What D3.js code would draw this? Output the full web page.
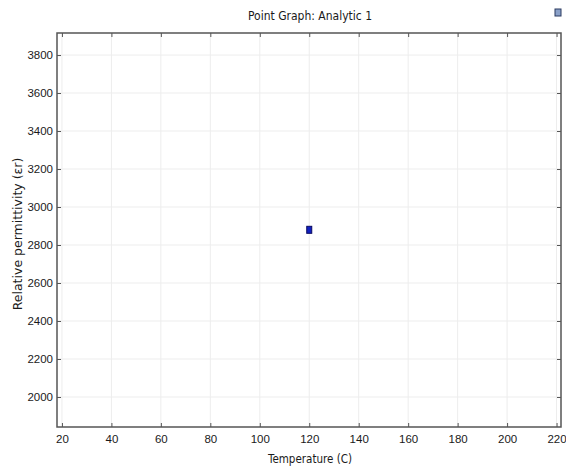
<!DOCTYPE html>
<html>
<head>
<meta charset="utf-8">
<script src="https://cdn.jsdelivr.net/npm/d3@7"></script>
<style>
  html, body { margin: 0; padding: 0; background: #fff; }
  svg { display: block; font-family: "DejaVu Sans Condensed", "DejaVu Sans", sans-serif; }
</style>
</head>
<body>
<div id="chart"></div>
<script>
// chart data
const temperature = [120];
const permittivity = [2880];
const xTicks = [20, 40, 60, 80, 100, 120, 140, 160, 180, 200, 220];
const yTicks = [2000, 2200, 2400, 2600, 2800, 3000, 3200, 3400, 3600, 3800];

const width = 566, height = 467;
const margin = { top: 33, right: 5, bottom: 40, left: 57 };
const innerW = width - margin.left - margin.right;
const innerH = height - margin.top - margin.bottom;

const svg = d3.select('#chart')
  .append('svg')
  .attr('width', width)
  .attr('height', height);

const g = svg.append('g')
  .attr('transform', `translate(${margin.left},${margin.top})`);

const x = d3.scaleLinear().domain([18, 221.8]).range([0, innerW]);
const y = d3.scaleLinear().domain([1842, 3916]).range([innerH, 0]);

// grid
g.append('g')
  .selectAll('line')
  .data(xTicks)
  .join('line')
  .attr('x1', d => x(d)).attr('x2', d => x(d))
  .attr('y1', 0).attr('y2', innerH)
  .attr('stroke', '#ededed');

g.append('g')
  .selectAll('line')
  .data(yTicks)
  .join('line')
  .attr('x1', 0).attr('x2', innerW)
  .attr('y1', d => y(d)).attr('y2', d => y(d))
  .attr('stroke', '#ededed');

// axes (ticks point inward)
const axisColor = '#555';
const fmt = d3.format('d');
const styleAxis = (sel) => {
  sel.select('.domain').remove();
  sel.selectAll('.tick line').attr('stroke', axisColor);
  sel.selectAll('.tick text').attr('fill', '#1a1a1a').style('font-size', '11.5px');
};

g.append('g')
  .attr('transform', `translate(0,${innerH})`)
  .call(d3.axisBottom(x).tickValues(xTicks).tickFormat(fmt).tickSizeInner(-4).tickSizeOuter(0).tickPadding(8))
  .call(styleAxis);

g.append('g')
  .call(d3.axisLeft(y).tickValues(yTicks).tickFormat(fmt).tickSizeInner(-4).tickSizeOuter(0).tickPadding(4))
  .call(styleAxis);

g.append('g')
  .call(d3.axisTop(x).tickValues(xTicks).tickSizeInner(-4).tickSizeOuter(0).tickFormat(''))
  .call(styleAxis);

g.append('g')
  .attr('transform', `translate(${innerW},0)`)
  .call(d3.axisRight(y).tickValues(yTicks).tickSizeInner(-4).tickSizeOuter(0).tickFormat(''))
  .call(styleAxis);

// frame
g.append('rect')
  .attr('width', innerW)
  .attr('height', innerH)
  .attr('fill', 'none')
  .attr('stroke', axisColor)
  .attr('stroke-width', 1.5);

// points
g.append('g')
  .selectAll('rect')
  .data(temperature.map((t, i) => [t, permittivity[i]]))
  .join('rect')
  .attr('x', d => x(d[0]) - 2.5)
  .attr('y', d => y(d[1]) - 3.5)
  .attr('width', 5)
  .attr('height', 7)
  .attr('fill', '#1020c0')
  .attr('stroke', '#0a0a60')
  .attr('stroke-width', 1);

// title and labels
svg.append('text')
  .attr('x', 310)
  .attr('y', 20)
  .attr('text-anchor', 'middle')
  .attr('fill', '#1a1a1a')
  .style('font-size', '12px')
  .text('Point Graph: Analytic 1');

svg.append('text')
  .attr('x', 310)
  .attr('y', 463)
  .attr('text-anchor', 'middle')
  .attr('fill', '#1a1a1a')
  .style('font-size', '11.5px')
  .text('Temperature (C)');

svg.append('text')
  .attr('transform', `translate(22,234) rotate(-90)`)
  .attr('text-anchor', 'middle')
  .attr('fill', '#1a1a1a')
  .style('font-family', '"DejaVu Sans", sans-serif')
  .style('font-size', '12.5px')
  .text('Relative permittivity (εr)');

// small toolbar icon at top right
svg.append('rect')
  .attr('x', 555).attr('y', 9)
  .attr('width', 6).attr('height', 7)
  .attr('fill', '#8aa0c8')
  .attr('stroke', '#2a3a60')
  .attr('stroke-width', 1);
</script>
</body>
</html>
